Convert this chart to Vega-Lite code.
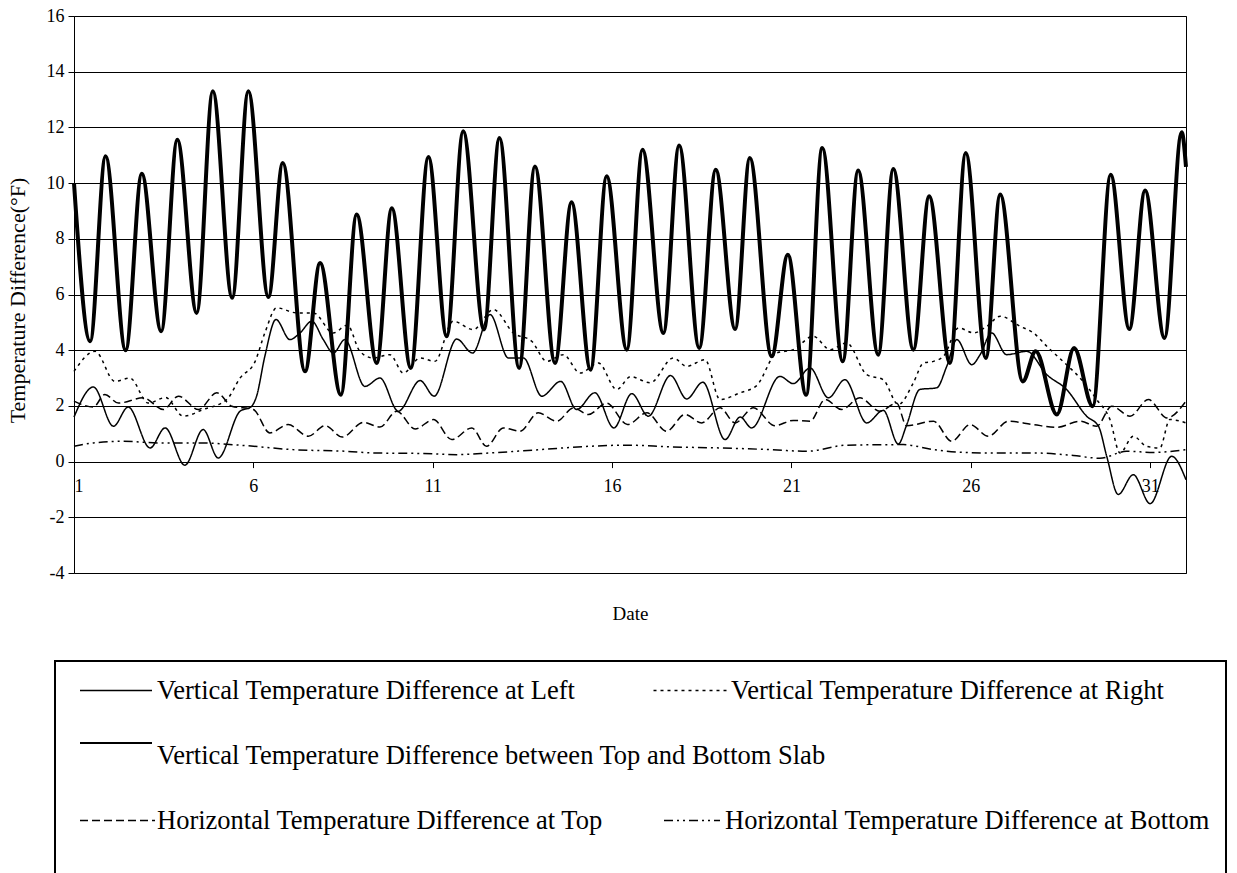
{
  "$schema": "https://vega.github.io/schema/vega-lite/v6.json",
  "width": 1112,
  "height": 557,
  "autosize": {"type": "none"},
  "padding": {"left": 74, "top": 16, "right": 51, "bottom": 300},
  "background": "white",
  "config": {
    "font": "Liberation Serif",
    "view": {"stroke": "black", "strokeWidth": 1},
    "axis": {
      "labelFont": "Liberation Serif",
      "titleFont": "Liberation Serif",
      "labelColor": "black",
      "titleColor": "black",
      "titleFontWeight": "normal",
      "labelFontSize": 18,
      "titleFontSize": 22,
      "tickColor": "black",
      "domainColor": "black"
    },
    "legend": {
      "labelFont": "Liberation Serif",
      "labelFontSize": 26.5,
      "labelColor": "black",
      "labelLimit": 1200
    }
  },
  "data": {
    "values": [
      {"series": "TB", "day": 1.0, "value": 10.0},
      {"series": "TB", "day": 1.45, "value": 4.32},
      {"series": "TB", "day": 1.88, "value": 10.96},
      {"series": "TB", "day": 2.44, "value": 4.0},
      {"series": "TB", "day": 2.89, "value": 10.34},
      {"series": "TB", "day": 3.43, "value": 4.68},
      {"series": "TB", "day": 3.88, "value": 11.56},
      {"series": "TB", "day": 4.42, "value": 5.34},
      {"series": "TB", "day": 4.87, "value": 13.3},
      {"series": "TB", "day": 5.41, "value": 5.88},
      {"series": "TB", "day": 5.86, "value": 13.3},
      {"series": "TB", "day": 6.42, "value": 5.91},
      {"series": "TB", "day": 6.82, "value": 10.72},
      {"series": "TB", "day": 7.44, "value": 3.24},
      {"series": "TB", "day": 7.86, "value": 7.13},
      {"series": "TB", "day": 8.44, "value": 2.4},
      {"series": "TB", "day": 8.88, "value": 8.87},
      {"series": "TB", "day": 9.44, "value": 3.54},
      {"series": "TB", "day": 9.86, "value": 9.1},
      {"series": "TB", "day": 10.39, "value": 3.36},
      {"series": "TB", "day": 10.88, "value": 10.94},
      {"series": "TB", "day": 11.39, "value": 4.5},
      {"series": "TB", "day": 11.85, "value": 11.86},
      {"series": "TB", "day": 12.43, "value": 4.74},
      {"series": "TB", "day": 12.86, "value": 11.62},
      {"series": "TB", "day": 13.41, "value": 3.36},
      {"series": "TB", "day": 13.85, "value": 10.6},
      {"series": "TB", "day": 14.41, "value": 3.54},
      {"series": "TB", "day": 14.87, "value": 9.31},
      {"series": "TB", "day": 15.4, "value": 3.3},
      {"series": "TB", "day": 15.85, "value": 10.25},
      {"series": "TB", "day": 16.41, "value": 4.02},
      {"series": "TB", "day": 16.85, "value": 11.2},
      {"series": "TB", "day": 17.43, "value": 4.62},
      {"series": "TB", "day": 17.87, "value": 11.35},
      {"series": "TB", "day": 18.43, "value": 4.08},
      {"series": "TB", "day": 18.89, "value": 10.48},
      {"series": "TB", "day": 19.43, "value": 4.76},
      {"series": "TB", "day": 19.84, "value": 10.9},
      {"series": "TB", "day": 20.45, "value": 3.78},
      {"series": "TB", "day": 20.9, "value": 7.43},
      {"series": "TB", "day": 21.41, "value": 2.4},
      {"series": "TB", "day": 21.86, "value": 11.26},
      {"series": "TB", "day": 22.43, "value": 3.6},
      {"series": "TB", "day": 22.86, "value": 10.45},
      {"series": "TB", "day": 23.42, "value": 3.84},
      {"series": "TB", "day": 23.84, "value": 10.51},
      {"series": "TB", "day": 24.4, "value": 4.02},
      {"series": "TB", "day": 24.84, "value": 9.53},
      {"series": "TB", "day": 25.42, "value": 3.54},
      {"series": "TB", "day": 25.86, "value": 11.08},
      {"series": "TB", "day": 26.42, "value": 3.72},
      {"series": "TB", "day": 26.82, "value": 9.59},
      {"series": "TB", "day": 27.45, "value": 2.88},
      {"series": "TB", "day": 27.81, "value": 3.96},
      {"series": "TB", "day": 28.4, "value": 1.69},
      {"series": "TB", "day": 28.88, "value": 4.08},
      {"series": "TB", "day": 29.4, "value": 1.99},
      {"series": "TB", "day": 29.9, "value": 10.3},
      {"series": "TB", "day": 30.42, "value": 4.76},
      {"series": "TB", "day": 30.86, "value": 9.73},
      {"series": "TB", "day": 31.4, "value": 4.44},
      {"series": "TB", "day": 31.88, "value": 11.83},
      {"series": "TB", "day": 32.0, "value": 10.58},

      {"series": "L", "day": 1.0, "value": 1.6},
      {"series": "L", "day": 1.54, "value": 2.68},
      {"series": "L", "day": 2.1, "value": 1.27},
      {"series": "L", "day": 2.51, "value": 1.96},
      {"series": "L", "day": 3.12, "value": 0.49},
      {"series": "L", "day": 3.54, "value": 1.21},
      {"series": "L", "day": 4.09, "value": -0.13},
      {"series": "L", "day": 4.6, "value": 1.15},
      {"series": "L", "day": 5.02, "value": 0.13},
      {"series": "L", "day": 5.63, "value": 1.81},
      {"series": "L", "day": 5.93, "value": 1.96},
      {"series": "L", "day": 6.09, "value": 2.35},
      {"series": "L", "day": 6.32, "value": 3.78},
      {"series": "L", "day": 6.63, "value": 5.1},
      {"series": "L", "day": 7.02, "value": 4.38},
      {"series": "L", "day": 7.3, "value": 4.62},
      {"series": "L", "day": 7.63, "value": 5.04},
      {"series": "L", "day": 7.95, "value": 4.38},
      {"series": "L", "day": 8.23, "value": 3.9},
      {"series": "L", "day": 8.55, "value": 4.38},
      {"series": "L", "day": 9.11, "value": 2.7},
      {"series": "L", "day": 9.53, "value": 3.0},
      {"series": "L", "day": 10.04, "value": 1.81},
      {"series": "L", "day": 10.65, "value": 2.91},
      {"series": "L", "day": 11.04, "value": 2.35},
      {"series": "L", "day": 11.67, "value": 4.4},
      {"series": "L", "day": 12.11, "value": 3.9},
      {"series": "L", "day": 12.6, "value": 5.28},
      {"series": "L", "day": 13.11, "value": 3.72},
      {"series": "L", "day": 13.53, "value": 3.72},
      {"series": "L", "day": 14.04, "value": 2.35},
      {"series": "L", "day": 14.57, "value": 2.88},
      {"series": "L", "day": 15.01, "value": 1.87},
      {"series": "L", "day": 15.52, "value": 2.47},
      {"series": "L", "day": 16.05, "value": 1.21},
      {"series": "L", "day": 16.55, "value": 2.44},
      {"series": "L", "day": 17.01, "value": 1.63},
      {"series": "L", "day": 17.63, "value": 3.09},
      {"series": "L", "day": 18.08, "value": 2.25},
      {"series": "L", "day": 18.53, "value": 2.85},
      {"series": "L", "day": 19.15, "value": 0.79},
      {"series": "L", "day": 19.57, "value": 1.6},
      {"series": "L", "day": 19.89, "value": 1.21},
      {"series": "L", "day": 20.68, "value": 3.06},
      {"series": "L", "day": 21.05, "value": 2.8},
      {"series": "L", "day": 21.52, "value": 3.36},
      {"series": "L", "day": 22.03, "value": 2.29},
      {"series": "L", "day": 22.49, "value": 2.94},
      {"series": "L", "day": 23.1, "value": 1.39},
      {"series": "L", "day": 23.56, "value": 1.84},
      {"series": "L", "day": 23.98, "value": 0.63},
      {"series": "L", "day": 24.2, "value": 1.27},
      {"series": "L", "day": 24.58, "value": 2.59},
      {"series": "L", "day": 25.05, "value": 2.65},
      {"series": "L", "day": 25.33, "value": 3.42},
      {"series": "L", "day": 25.61, "value": 4.38},
      {"series": "L", "day": 26.03, "value": 3.48},
      {"series": "L", "day": 26.26, "value": 3.84},
      {"series": "L", "day": 26.58, "value": 4.62},
      {"series": "L", "day": 27.0, "value": 3.84},
      {"series": "L", "day": 27.56, "value": 3.96},
      {"series": "L", "day": 28.12, "value": 3.12},
      {"series": "L", "day": 28.67, "value": 2.59},
      {"series": "L", "day": 29.23, "value": 1.63},
      {"series": "L", "day": 29.56, "value": 1.27},
      {"series": "L", "day": 29.79, "value": 0.19},
      {"series": "L", "day": 30.11, "value": -1.18},
      {"series": "L", "day": 30.53, "value": -0.47},
      {"series": "L", "day": 31.0, "value": -1.51},
      {"series": "L", "day": 31.6, "value": 0.19},
      {"series": "L", "day": 32.0, "value": -0.65},

      {"series": "R", "day": 1.0, "value": 3.24},
      {"series": "R", "day": 1.59, "value": 3.96},
      {"series": "R", "day": 2.14, "value": 2.88},
      {"series": "R", "day": 2.56, "value": 3.0},
      {"series": "R", "day": 3.07, "value": 2.1},
      {"series": "R", "day": 3.55, "value": 2.3},
      {"series": "R", "day": 4.05, "value": 1.63},
      {"series": "R", "day": 4.6, "value": 1.87},
      {"series": "R", "day": 5.26, "value": 2.23},
      {"series": "R", "day": 5.63, "value": 3.0},
      {"series": "R", "day": 6.05, "value": 3.6},
      {"series": "R", "day": 6.32, "value": 4.62},
      {"series": "R", "day": 6.65, "value": 5.52},
      {"series": "R", "day": 7.21, "value": 5.34},
      {"series": "R", "day": 7.67, "value": 5.34},
      {"series": "R", "day": 8.23, "value": 4.62},
      {"series": "R", "day": 8.62, "value": 4.9},
      {"series": "R", "day": 8.97, "value": 3.96},
      {"series": "R", "day": 9.34, "value": 3.72},
      {"series": "R", "day": 9.81, "value": 3.84},
      {"series": "R", "day": 10.18, "value": 3.18},
      {"series": "R", "day": 10.65, "value": 3.72},
      {"series": "R", "day": 11.06, "value": 3.6},
      {"series": "R", "day": 11.57, "value": 5.04},
      {"series": "R", "day": 12.13, "value": 4.74},
      {"series": "R", "day": 12.69, "value": 5.46},
      {"series": "R", "day": 13.25, "value": 4.62},
      {"series": "R", "day": 13.76, "value": 4.32},
      {"series": "R", "day": 14.18, "value": 3.6},
      {"series": "R", "day": 14.64, "value": 3.84},
      {"series": "R", "day": 15.11, "value": 3.18},
      {"series": "R", "day": 15.62, "value": 3.54},
      {"series": "R", "day": 16.13, "value": 2.59},
      {"series": "R", "day": 16.52, "value": 3.05},
      {"series": "R", "day": 17.06, "value": 2.83},
      {"series": "R", "day": 17.71, "value": 3.72},
      {"series": "R", "day": 18.08, "value": 3.42},
      {"series": "R", "day": 18.59, "value": 3.66},
      {"series": "R", "day": 19.01, "value": 2.23},
      {"series": "R", "day": 19.57, "value": 2.47},
      {"series": "R", "day": 20.03, "value": 2.73},
      {"series": "R", "day": 20.59, "value": 3.9},
      {"series": "R", "day": 21.05, "value": 4.02},
      {"series": "R", "day": 21.61, "value": 4.5},
      {"series": "R", "day": 22.08, "value": 4.02},
      {"series": "R", "day": 22.54, "value": 4.26},
      {"series": "R", "day": 23.1, "value": 3.12},
      {"series": "R", "day": 23.56, "value": 2.94},
      {"series": "R", "day": 23.98, "value": 2.05},
      {"series": "R", "day": 24.4, "value": 2.83},
      {"series": "R", "day": 24.68, "value": 3.54},
      {"series": "R", "day": 24.96, "value": 3.6},
      {"series": "R", "day": 25.24, "value": 3.78},
      {"series": "R", "day": 25.66, "value": 4.8},
      {"series": "R", "day": 26.08, "value": 4.62},
      {"series": "R", "day": 26.45, "value": 4.86},
      {"series": "R", "day": 26.82, "value": 5.22},
      {"series": "R", "day": 27.37, "value": 4.86},
      {"series": "R", "day": 27.75, "value": 4.62},
      {"series": "R", "day": 28.12, "value": 4.14},
      {"series": "R", "day": 28.67, "value": 3.48},
      {"series": "R", "day": 29.09, "value": 2.94},
      {"series": "R", "day": 29.51, "value": 2.23},
      {"series": "R", "day": 29.88, "value": 1.51},
      {"series": "R", "day": 30.16, "value": 0.31},
      {"series": "R", "day": 30.53, "value": 0.91},
      {"series": "R", "day": 30.9, "value": 0.55},
      {"series": "R", "day": 31.27, "value": 0.49},
      {"series": "R", "day": 31.55, "value": 1.51},
      {"series": "R", "day": 32.0, "value": 1.39},

      {"series": "HT", "day": 1.0, "value": 2.17},
      {"series": "HT", "day": 1.54, "value": 1.96},
      {"series": "HT", "day": 1.86, "value": 2.41},
      {"series": "HT", "day": 2.24, "value": 2.1},
      {"series": "HT", "day": 2.93, "value": 2.29},
      {"series": "HT", "day": 3.49, "value": 1.87},
      {"series": "HT", "day": 3.91, "value": 2.35},
      {"series": "HT", "day": 4.47, "value": 1.87},
      {"series": "HT", "day": 4.98, "value": 2.47},
      {"series": "HT", "day": 5.4, "value": 1.99},
      {"series": "HT", "day": 6.0, "value": 1.87},
      {"series": "HT", "day": 6.46, "value": 1.03},
      {"series": "HT", "day": 6.97, "value": 1.33},
      {"series": "HT", "day": 7.53, "value": 0.91},
      {"series": "HT", "day": 8.0, "value": 1.29},
      {"series": "HT", "day": 8.48, "value": 0.88},
      {"series": "HT", "day": 9.07, "value": 1.41},
      {"series": "HT", "day": 9.53, "value": 1.24},
      {"series": "HT", "day": 10.0, "value": 1.81},
      {"series": "HT", "day": 10.51, "value": 1.17},
      {"series": "HT", "day": 11.02, "value": 1.51},
      {"series": "HT", "day": 11.53, "value": 0.79},
      {"series": "HT", "day": 12.09, "value": 1.21},
      {"series": "HT", "day": 12.5, "value": 0.55},
      {"series": "HT", "day": 12.97, "value": 1.21},
      {"series": "HT", "day": 13.43, "value": 1.09},
      {"series": "HT", "day": 13.94, "value": 1.75},
      {"series": "HT", "day": 14.46, "value": 1.45},
      {"series": "HT", "day": 14.92, "value": 1.93},
      {"series": "HT", "day": 15.34, "value": 1.69},
      {"series": "HT", "day": 15.85, "value": 2.1},
      {"series": "HT", "day": 16.43, "value": 1.33},
      {"series": "HT", "day": 16.97, "value": 1.75},
      {"series": "HT", "day": 17.52, "value": 1.09},
      {"series": "HT", "day": 18.03, "value": 1.69},
      {"series": "HT", "day": 18.5, "value": 1.39},
      {"series": "HT", "day": 19.01, "value": 1.93},
      {"series": "HT", "day": 19.43, "value": 1.39},
      {"series": "HT", "day": 19.94, "value": 1.93},
      {"series": "HT", "day": 20.54, "value": 1.29},
      {"series": "HT", "day": 21.05, "value": 1.48},
      {"series": "HT", "day": 21.52, "value": 1.45},
      {"series": "HT", "day": 21.94, "value": 2.23},
      {"series": "HT", "day": 22.4, "value": 1.87},
      {"series": "HT", "day": 22.91, "value": 2.29},
      {"series": "HT", "day": 23.47, "value": 1.81},
      {"series": "HT", "day": 23.93, "value": 2.1},
      {"series": "HT", "day": 24.21, "value": 1.29},
      {"series": "HT", "day": 24.96, "value": 1.45},
      {"series": "HT", "day": 25.47, "value": 0.73},
      {"series": "HT", "day": 25.98, "value": 1.33},
      {"series": "HT", "day": 26.49, "value": 0.91},
      {"series": "HT", "day": 27.05, "value": 1.45},
      {"series": "HT", "day": 27.74, "value": 1.33},
      {"series": "HT", "day": 28.4, "value": 1.23},
      {"series": "HT", "day": 29.05, "value": 1.45},
      {"series": "HT", "day": 29.51, "value": 1.27},
      {"series": "HT", "day": 29.93, "value": 1.99},
      {"series": "HT", "day": 30.44, "value": 1.63},
      {"series": "HT", "day": 30.95, "value": 2.23},
      {"series": "HT", "day": 31.47, "value": 1.57},
      {"series": "HT", "day": 32.0, "value": 2.17},

      {"series": "HB", "day": 1.0, "value": 0.55},
      {"series": "HB", "day": 1.54, "value": 0.67},
      {"series": "HB", "day": 2.37, "value": 0.73},
      {"series": "HB", "day": 3.4, "value": 0.67},
      {"series": "HB", "day": 4.51, "value": 0.67},
      {"series": "HB", "day": 5.81, "value": 0.57},
      {"series": "HB", "day": 7.1, "value": 0.43},
      {"series": "HB", "day": 8.6, "value": 0.37},
      {"series": "HB", "day": 9.34, "value": 0.31},
      {"series": "HB", "day": 10.74, "value": 0.29},
      {"series": "HB", "day": 11.67, "value": 0.25},
      {"series": "HB", "day": 12.6, "value": 0.31},
      {"series": "HB", "day": 13.99, "value": 0.43},
      {"series": "HB", "day": 15.38, "value": 0.55},
      {"series": "HB", "day": 16.41, "value": 0.59},
      {"series": "HB", "day": 17.62, "value": 0.53},
      {"series": "HB", "day": 19.01, "value": 0.49},
      {"series": "HB", "day": 20.4, "value": 0.43},
      {"series": "HB", "day": 21.42, "value": 0.37},
      {"series": "HB", "day": 22.54, "value": 0.59},
      {"series": "HB", "day": 24.12, "value": 0.61},
      {"series": "HB", "day": 24.96, "value": 0.43},
      {"series": "HB", "day": 26.35, "value": 0.31},
      {"series": "HB", "day": 27.74, "value": 0.31},
      {"series": "HB", "day": 28.86, "value": 0.22},
      {"series": "HB", "day": 29.6, "value": 0.12},
      {"series": "HB", "day": 30.34, "value": 0.37},
      {"series": "HB", "day": 31.09, "value": 0.33},
      {"series": "HB", "day": 32.0, "value": 0.43}
    ]
  },
  "encoding": {
    "x": {
      "field": "day",
      "type": "quantitative",
      "scale": {"domain": [1, 32], "nice": false, "zero": false},
      "axis": {
        "values": [1, 6, 11, 16, 21, 26, 31],
        "offset": -111.4,
        "domain": false,
        "grid": false,
        "tickSize": 6,
        "labelPadding": 10,
        "labelFont": "Liberation Serif",
        "labelFontSize": 18,
        "labelExpr": "'' + datum.value",
        "title": "Date",
        "titleFont": "Liberation Serif",
        "titleFontSize": 19,
        "titleY": 152,
        "titleBaseline": "middle"
      }
    },
    "y": {
      "field": "value",
      "type": "quantitative",
      "scale": {"domain": [-4, 16], "nice": false, "zero": false},
      "axis": {
        "values": [-4, -2, 0, 2, 4, 6, 8, 10, 12, 14, 16],
        "grid": true,
        "gridColor": "black",
        "gridOpacity": 1,
        "gridWidth": 1,
        "domain": false,
        "tickSize": 6,
        "labelPadding": 4,
        "labelFont": "Liberation Serif",
        "labelFontSize": 18,
        "labelExpr": "'' + datum.value",
        "title": "Temperature Difference(°F)",
        "titleFont": "Liberation Serif",
        "titleFontSize": 22,
        "titleAngle": 270,
        "titleX": -57,
        "titleY": 284,
        "titleAlign": "center",
        "titleBaseline": "middle"
      }
    }
  },
  "layer": [
    {
      "transform": [{"filter": "datum.series === 'TB'"}],
      "mark": {"type": "line", "interpolate": "monotone", "strokeWidth": 4},
      "encoding": {
        "color": {
          "field": "series",
          "type": "nominal",
          "scale": {"domain": ["TB"], "range": ["black"]},
          "legend": {
            "orient": "none",
            "legendX": -19,
            "legendY": 710,
            "title": null,
            "padding": 16,
            "clipHeight": 27,
            "symbolType": "stroke",
            "symbolSize": 5184,
            "symbolStrokeWidth": 4,
            "labelExpr": "'Vertical Temperature Difference between Top and Bottom Slab'",
            "encode": {
              "symbols": {"update": {"x": {"value": 45}, "y": {"value": 0}}},
              "labels": {"update": {"x": {"value": 86}}}
            }
          }
        }
      }
    },
    {
      "transform": [{"filter": "datum.series !== 'TB'"}],
      "mark": {"type": "line", "interpolate": "monotone", "strokeWidth": 1.5, "color": "black"},
      "encoding": {
        "strokeDash": {
          "field": "series",
          "type": "nominal",
          "scale": {
            "domain": ["L", "gapA", "HT", "gapB", "R", "gapC", "HB", "gapD"],
            "range": [[1, 0], [1, 0], [8, 4], [1, 0], [3, 4], [1, 0], [9, 4, 2, 4, 2, 4], [1, 0]]
          },
          "legend": {
            "orient": "none",
            "legendX": -19,
            "legendY": 645,
            "title": null,
            "columns": 2,
            "columnPadding": 41,
            "rowPadding": 38,
            "clipHeight": 27,
            "padding": 16,
            "symbolType": "stroke",
            "symbolSize": 5184,
            "symbolStrokeColor": "black",
            "symbolStrokeWidth": 1.5,
            "strokeColor": "black",
            "labelExpr": "datum.label === 'L' ? 'Vertical Temperature Difference at Left' : datum.label === 'R' ? 'Vertical Temperature Difference at Right' : datum.label === 'HT' ? 'Horizontal Temperature Difference at Top' : datum.label === 'HB' ? 'Horizontal Temperature Difference at Bottom' : ''",
            "encode": {
              "legend": {"update": {"strokeWidth": {"value": 2}}},
              "symbols": {
                "update": {
                  "strokeWidth": {"signal": "test(/^gap/, datum.value) ? 0 : 1.5"},
                  "size": {"signal": "datum.value === 'HT' ? 5625 : datum.value === 'HB' ? 3136 : datum.value === 'R' ? 5329 : 5184"},
                  "x": {"signal": "datum.value === 'HB' ? 47 : datum.value === 'HT' ? 46.5 : 45"}
                }
              },
              "labels": {"update": {"x": {"signal": "datum.value === 'HB' ? 80 : 86"}}}
            }
          }
        }
      }
    }
  ]
}
